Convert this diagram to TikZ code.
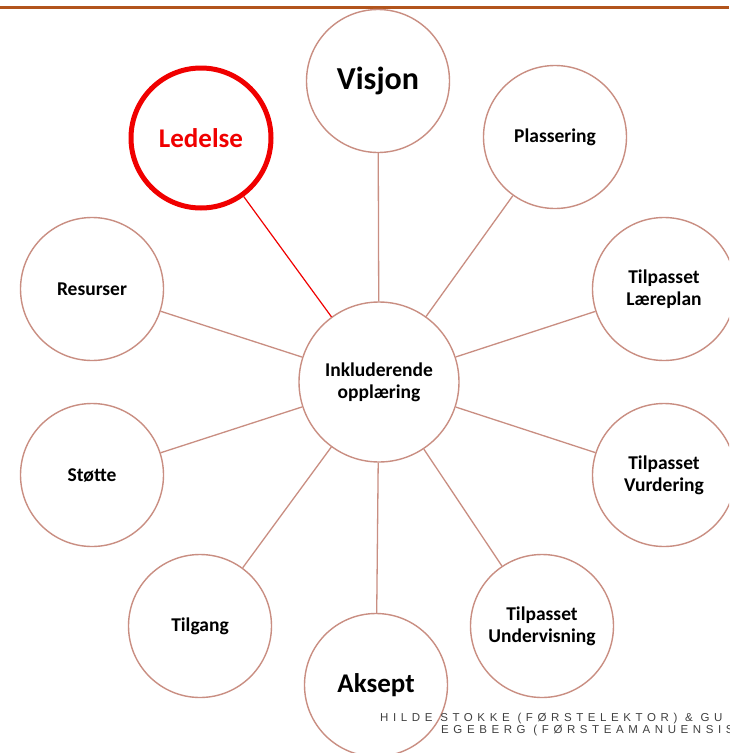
\documentclass[tikz,border=0pt]{standalone}
\usepackage{fontspec}
\setmainfont{Carlito}
\newfontfamily\footfont[LetterSpace=40]{Liberation Sans}
\definecolor{ring}{RGB}{201,142,130}
\definecolor{topbar}{RGB}{178,84,28}
\definecolor{hot}{RGB}{240,0,0}
\begin{document}
\begin{tikzpicture}[x=1pt,y=-1pt,
  bub/.style={circle,draw=ring,line width=1.4pt,fill=white,inner sep=0pt,
    minimum size=143pt,align=center,font=\bfseries\fontsize{19.5}{22}\selectfont},
  big/.style={font=\bfseries\fontsize{27}{30}\selectfont},
  link/.style={draw=ring,line width=1.3pt},
  foot/.style={anchor=base west,inner sep=0pt,font=\footfont\fontsize{11.5}{12}\selectfont,text=black!75}]
\useasboundingbox (0,0) rectangle (729,753);
\clip (0,0) rectangle (729,753);
\fill[white] (0,0) rectangle (729,753);
\draw[topbar,line width=2.5pt] (0,7.5) -- (729,7.5);
% nodes
\node[bub,minimum size=160pt] (c) at (379,382) {Inkluderende\\opplæring};
\node[bub,big,font=\bfseries\fontsize{32}{34}\selectfont] (vis) at (378,81) {Visjon};
\node[bub,big,draw=hot,text=hot,line width=5pt,minimum size=140pt] (led) at (201,138) {Ledelse};
\node[bub] (pla) at (555,137) {Plassering};
\node[bub] (res) at (92,289) {Resurser};
\node[bub] (lae) at (664,289) {Tilpasset\\Læreplan};
\node[bub] (sto) at (92,475) {Støtte};
\node[bub] (vur) at (664,475) {Tilpasset\\Vurdering};
\node[bub] (til) at (200,626) {Tilgang};
\node[bub] (und) at (542,626) {Tilpasset\\Undervisning};
\node[bub,big] (aks) at (376,685) {Aksept};
% connectors
\draw[link] (c) -- (vis);
\draw[hot,line width=1.2pt] (c) -- (led);
\draw[link] (c) -- (pla);
\draw[link] (c) -- (res);
\draw[link] (c) -- (lae);
\draw[link] (c) -- (sto);
\draw[link] (c) -- (vur);
\draw[link] (c) -- (til);
\draw[link] (c) -- (und);
\draw[link] (c) -- (aks);
% footer
\node[foot] (f1) at (380,721) {HILDE STOKKE (FØRSTELEKTOR) \& GU};
\node[foot] (f2) at (441,733) {EGEBERG (FØRSTEAMANUENSIS};
\end{tikzpicture}
\end{document}
